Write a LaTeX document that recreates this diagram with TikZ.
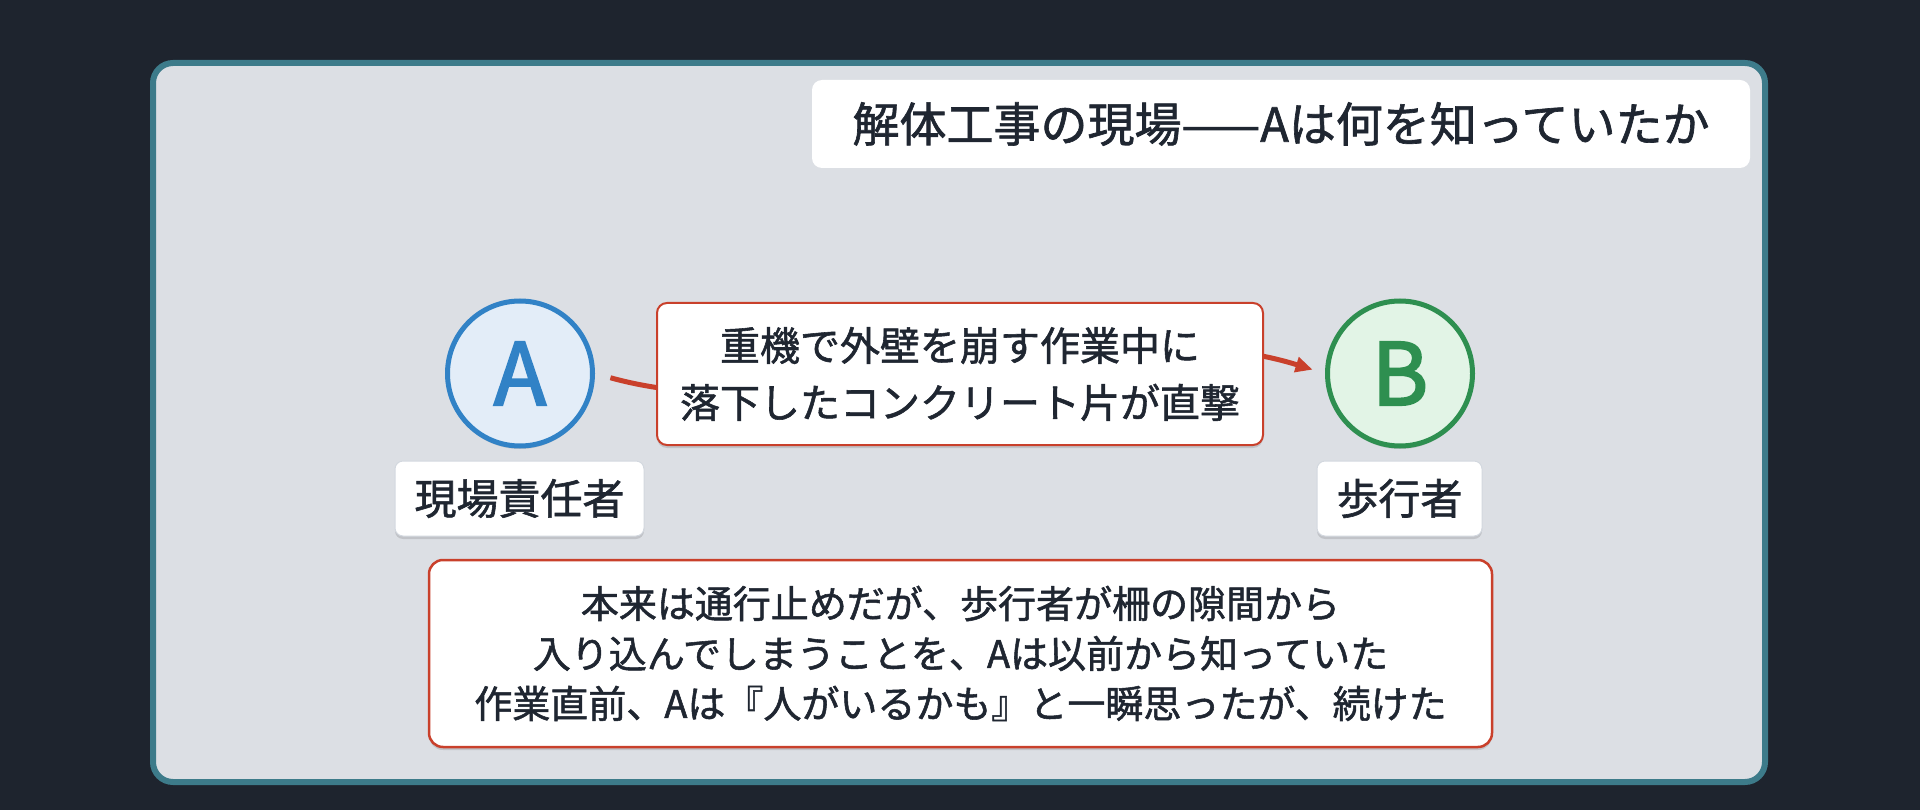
\documentclass[tikz,border=0pt]{standalone}
\usepackage{fontspec}
\newfontfamily\jp[FakeBold=1.4]{Noto Sans CJK JP}
\newfontfamily\jpl[FakeBold=2.5]{Noto Sans CJK JP}
\usetikzlibrary{arrows.meta,shadows}
\definecolor{bgc}{HTML}{1E242E}
\definecolor{framec}{HTML}{3D7B8A}
\definecolor{panelc}{HTML}{DCDFE4}
\definecolor{txtc}{HTML}{1F2631}
\definecolor{redc}{HTML}{C9402B}
\definecolor{bluec}{HTML}{3182C6}
\definecolor{bluef}{HTML}{E3EDF8}
\definecolor{greenc}{HTML}{2E8F50}
\definecolor{greenf}{HTML}{E2F4E6}
\definecolor{labline}{HTML}{D3D8DF}
\begin{document}
\begin{tikzpicture}[x=1pt,y=-1pt,
  softshadow/.style={drop shadow={shadow xshift=0pt,shadow yshift=-3pt,opacity=0.12,fill=black}},
  titlebox/.style={rectangle,rounded corners=10pt,fill=white,draw=none,minimum width=938pt,minimum height=88pt,inner sep=0pt,text=txtc,font=\jp\fontsize{47pt}{56pt}\selectfont},
  person/.style={circle,minimum size=145pt,inner sep=0pt,line width=5pt,font=\jpl\fontsize{86pt}{90pt}\selectfont,softshadow},
  lab/.style={rectangle,rounded corners=8pt,fill=white,draw=labline,line width=1pt,minimum width=249pt,minimum height=75pt,inner sep=0pt,text=txtc,font=\jp\fontsize{42pt}{50pt}\selectfont,softshadow},
  evbox/.style={rectangle,rounded corners=10pt,fill=white,draw=redc,line width=2pt,minimum width=606pt,minimum height=142pt,inner sep=0pt,align=center,text=txtc,font=\jp\fontsize{40pt}{57pt}\selectfont,softshadow},
  notebox/.style={rectangle,rounded corners=14pt,fill=white,draw=redc,line width=2.5pt,minimum width=1063pt,minimum height=187pt,inner sep=0pt,align=center,text=txtc,font=\jp\fontsize{38pt}{50pt}\selectfont,softshadow},
  conn/.style={draw=redc,line width=5pt,-{Triangle[length=17pt,width=15pt]},shorten <=16pt,shorten >=13pt}
]
\fill[bgc] (0,0) rectangle (1920,810);
\useasboundingbox (0,0) rectangle (1920,810);
\draw[framec,line width=6pt,fill=panelc,rounded corners=20pt] (153,63) rectangle (1765,782);

\node[titlebox] (title) at (1281,124) {解体工事の現場——Aは何を知っていたか};

\node[person,draw=bluec,fill=bluef,text=bluec] (A) at (520,373.5) {A};
\node[person,draw=greenc,fill=greenf,text=greenc] (B) at (1400,373.5) {B};

\node[lab] (la) at (519.5,498.5) {現場責任者};
\node[lab,minimum width=165pt] (lb) at (1399.5,498.5) {歩行者};

\draw[conn] (A.east) .. controls (825,437) and (1095,302) .. (B.west);

\node[evbox] (ev) at (960,374) {重機で外壁を崩す作業中に\\落下したコンクリート片が直撃};

\node[notebox] (note) at (960.5,653.5) {本来は通行止めだが、歩行者が柵の隙間から\\入り込んでしまうことを、Aは以前から知っていた\\作業直前、Aは『人がいるかも』と一瞬思ったが、続けた};
\end{tikzpicture}
\end{document}
